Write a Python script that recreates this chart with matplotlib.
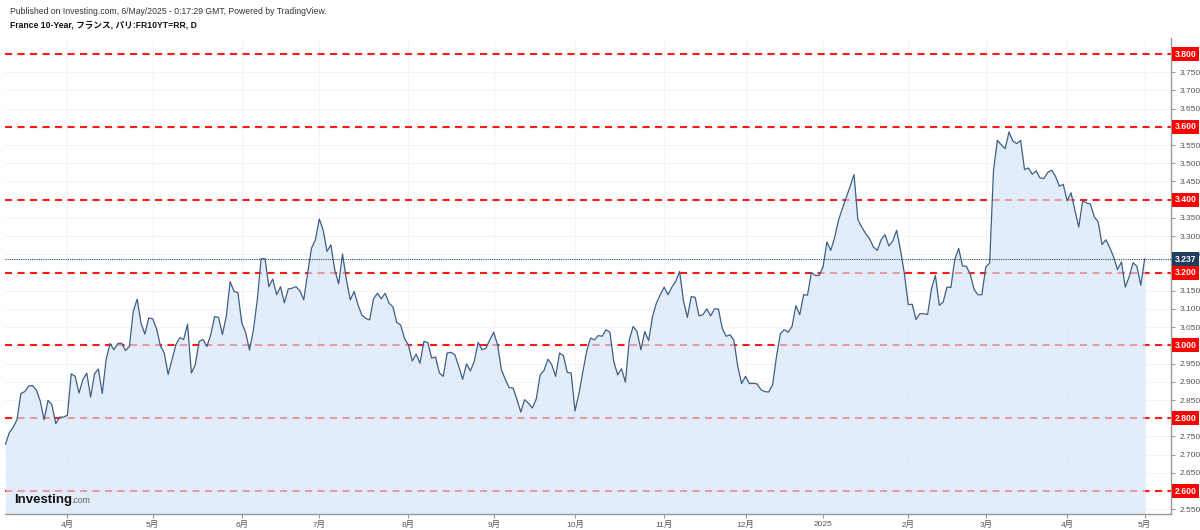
import numpy as np
import pandas as pd
import matplotlib
matplotlib.use('Agg')
import matplotlib.pyplot as plt
from matplotlib.ticker import FuncFormatter
from matplotlib.transforms import blended_transform_factory

# France 10Y daily close, 2024-03-08 .. 2025-05-02
yields = [
    2.728, 2.760, 2.775, 2.796, 2.868, 2.873, 2.888, 2.890, 2.877, 2.847,
    2.796, 2.849, 2.837, 2.785, 2.803, 2.803, 2.808, 2.922, 2.915, 2.869,
    2.906, 2.924, 2.858, 2.922, 2.935, 2.868, 2.961, 3.005, 2.988, 3.005,
    3.006, 2.986, 2.997, 3.093, 3.127, 3.061, 3.031, 3.075, 3.073, 3.046,
    2.999, 2.979, 2.920, 2.961, 3.002, 3.021, 3.016, 3.058, 2.924, 2.947,
    3.011, 3.016, 2.997, 3.029, 3.079, 3.077,
    3.030, 3.079, 3.175, 3.148, 3.145, 3.062, 3.035, 2.987, 3.042, 3.125,
    3.238, 3.238, 3.161, 3.182, 3.139, 3.161, 3.117, 3.155, 3.157, 3.161,
    3.150, 3.125, 3.198, 3.267, 3.290, 3.347, 3.317, 3.258, 3.276, 3.207,
    3.169, 3.251, 3.180, 3.125, 3.148, 3.111, 3.083, 3.074, 3.070, 3.128,
    3.143, 3.128, 3.143, 3.116, 3.106, 3.063, 3.056, 3.019, 3.001, 2.957,
    2.976,
    2.951, 3.011, 3.008, 2.965, 2.968, 2.924, 2.915, 2.979, 2.981, 2.974,
    2.942, 2.907, 2.949, 2.930, 2.956, 3.008, 2.988, 2.992, 3.015, 3.036,
    3.002, 2.933, 2.907, 2.884, 2.883, 2.852, 2.817, 2.851, 2.841, 2.828,
    2.853, 2.919, 2.931, 2.962, 2.947, 2.915, 2.979, 2.972, 2.926, 2.924,
    2.820, 2.867, 2.926, 2.983, 3.020, 3.015, 3.027, 3.025, 3.043, 3.036,
    2.956, 2.919, 2.936, 2.899, 3.015, 3.052, 3.038, 2.988, 3.038, 3.013,
    3.079, 3.116, 3.139, 3.160, 3.139, 3.160, 3.176, 3.203, 3.121, 3.077,
    3.134, 3.132, 3.081, 3.084, 3.100, 3.081, 3.100, 3.100, 3.047, 3.025,
    3.029, 3.014, 2.942, 2.895, 2.915, 2.895, 2.896, 2.894, 2.878, 2.873,
    2.872, 2.892, 2.970, 3.032, 3.043, 3.036, 3.052, 3.109, 3.084,
    3.139, 3.138, 3.200, 3.192, 3.192, 3.215, 3.284, 3.261, 3.296, 3.344,
    3.376, 3.406, 3.437, 3.469, 3.345, 3.325, 3.307, 3.293, 3.270, 3.261,
    3.290, 3.304, 3.273, 3.287, 3.316, 3.261, 3.197, 3.112, 3.113, 3.071,
    3.087, 3.087, 3.085, 3.156, 3.192, 3.110, 3.119, 3.160, 3.159, 3.236,
    3.266, 3.218, 3.217, 3.195, 3.153, 3.139, 3.139, 3.215, 3.226, 3.481,
    3.563, 3.551, 3.540, 3.586, 3.561, 3.554, 3.563, 3.483, 3.487, 3.470,
    3.479, 3.460, 3.458, 3.475, 3.481, 3.464, 3.437, 3.442, 3.397, 3.419,
    3.371, 3.325, 3.397, 3.391, 3.388, 3.353, 3.339, 3.277, 3.290, 3.268,
    3.243, 3.208, 3.229, 3.160, 3.188, 3.227, 3.217, 3.165, 3.237,
]
levels = [2.6, 2.8, 3.0, 3.2, 3.4, 3.6, 3.8]
last_price = 3.237
holidays = ['2024-12-25', '2024-12-26', '2025-01-01',
            '2025-04-18', '2025-04-21', '2025-05-01']
dates = pd.bdate_range('2024-03-08', '2025-05-02', freq='C', holidays=holidays)
dates = dates[-len(yields):]

plt.rcParams['font.family'] = ['Liberation Sans', 'Noto Sans CJK JP', 'DejaVu Sans']

fig = plt.figure(figsize=(12, 5.3), dpi=100)
ax = fig.add_axes([5 / 1200, 16 / 530, 1166 / 1200, 476 / 530])
ax.set_axisbelow(True)

x = np.arange(len(yields))
ymin, ymax = 2.537, 3.844
ax.set_xlim(-0.1, 300.8)
ax.set_ylim(ymin, ymax)

# month ticks at first bar of each month
month_idx, month_lab = [], []
for i in range(1, len(dates)):
    if dates[i].month != dates[i - 1].month:
        month_idx.append(i)
        month_lab.append(str(dates[i].year) if dates[i].month == 1 else f'{dates[i].month}月')
ax.set_xticks(month_idx, month_lab)


def ylab(v, pos):
    # the red boxes sit where these labels would be
    if any(abs(v - lv) < 1e-6 for lv in levels):
        return ''
    return f'{v:.3f}'


ax.yaxis.tick_right()
ax.set_yticks(np.arange(2.55, 3.8001, 0.05))
ax.yaxis.set_major_formatter(FuncFormatter(ylab))
ax.tick_params(axis='both', labelsize=6, labelcolor='#555555', color='#999999', length=3, width=0.8)
ax.tick_params(axis='x', pad=2)
ax.grid(True, color='#f2f3f6', lw=0.8)
for s in ['top', 'left']:
    ax.spines[s].set_visible(False)
for s in ['right', 'bottom']:
    ax.spines[s].set_color('#9a9a9a')
    ax.spines[s].set_linewidth(1.0)

for lv in levels:
    ax.axhline(lv, color='#ff1a1a', lw=1.5, dashes=(3.4, 2.6), zorder=1)

ax.fill_between(x, yields, ymin, color='#d3e4f7', alpha=0.65, lw=0, zorder=2)
ax.plot(x, yields, color='#3d5f85', lw=0.9, zorder=3)
ax.axhline(last_price, color='#2b4a6b', lw=0.8, ls=(0, (1, 1)), zorder=4)

trans = blended_transform_factory(ax.transAxes, ax.transData)
for lv in levels:
    ax.text(1.003, lv, f'{lv:.3f}', transform=trans, color='white', fontsize=6.2,
            fontweight='bold', va='center', ha='left', clip_on=False, zorder=10,
            bbox=dict(boxstyle='square,pad=0.3', fc='#ff0000', ec='none'))
ax.text(1.003, last_price, f'{last_price:.3f}', transform=trans, color='white', fontsize=6.2,
        fontweight='bold', va='center', ha='left', clip_on=False, zorder=10,
        bbox=dict(boxstyle='square,pad=0.3', fc='#1f3d5e', ec='none'))

fig.text(10 / 1200, 1 - 11 / 530, 'Published on Investing.com, 6/May/2025 - 0:17:29 GMT, Powered by TradingView.',
         fontsize=6.2, color='#333333', va='center', ha='left')
fig.text(10 / 1200, 1 - 25 / 530, 'France 10-Year, フランス, パリ:FR10YT=RR, D',
         fontsize=6.2, fontweight='bold', color='#111111', va='center', ha='left')

# Investing.com watermark
fig.text(14 / 1200, 1 - 503 / 530, 'Investing', fontsize=9.5, fontweight='bold',
         color='#111111', va='baseline', ha='left')
fig.text(71 / 1200, 1 - 503 / 530, '.com', fontsize=6.3, color='#666666', va='baseline', ha='left')

fig.savefig('out.png', dpi=100)
